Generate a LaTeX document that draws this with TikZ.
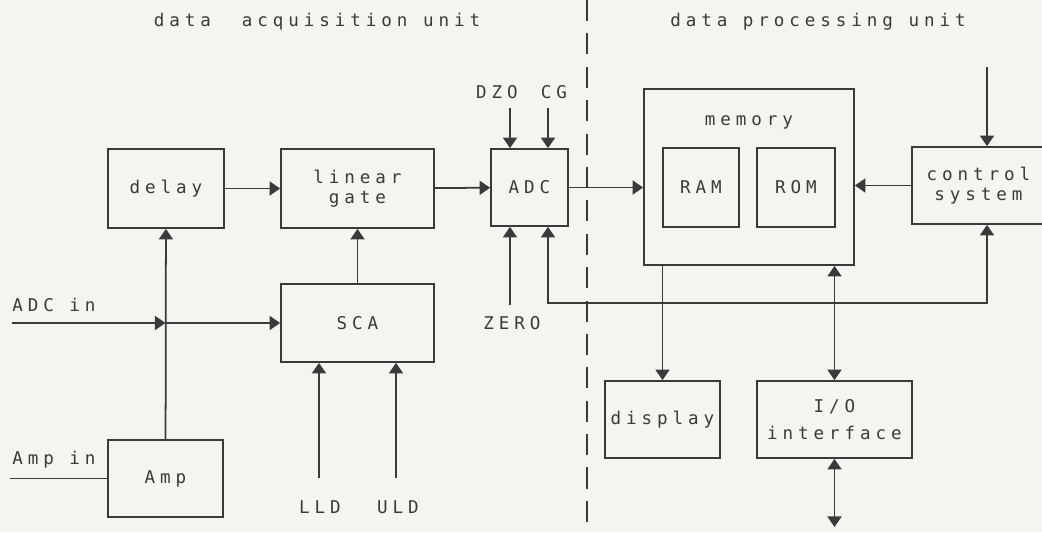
\documentclass[tikz,border=0pt]{standalone}
\usepackage{fontspec}
\usepackage{tikz}
\usetikzlibrary{arrows.meta, positioning, calc}
\newfontfamily\dotfont[LetterSpace=28]{DejaVu Sans Mono}
\definecolor{Ink}{RGB}{58,58,58}
\definecolor{Paper}{RGB}{244,244,240}

\begin{document}
\begin{tikzpicture}[
          box/.style={rectangle, draw=Ink, line width=1pt, align=center,
                      text=Ink, inner sep=0pt},
          txt/.style={text=Ink, inner sep=0pt},
          arr/.style={-{Triangle[length=6pt, width=8pt]}, draw=Ink, line width=1pt},
          dbl/.style={{Triangle[length=6pt, width=8pt]}-{Triangle[length=6pt, width=8pt]},
                      draw=Ink, line width=1pt},
          font=\dotfont\fontsize{10}{11.5}\selectfont
        ]
        \fill[Paper] (0,0) rectangle (20.84,10.64);
        \useasboundingbox (0,0) rectangle (20.84,10.64);
        \clip (0,0) rectangle (20.84,10.64);

        % Unit titles
        \node[txt] (tacq) at (6.34, 10.20) {data~~acquisition unit};
        \node[txt] (tproc) at (16.36, 10.20) {data processing unit};
        \draw[Ink, line width=1pt, dash pattern=on 12pt off 7pt] (11.74,10.64) -- (11.74,0);

        % Acquisition side
        \node[box, minimum width=2.32cm, minimum height=1.58cm]
              (delay) at (3.32, 6.87) {delay};
        \node[box, minimum width=3.06cm, minimum height=1.58cm]
              (gate) at (7.15, 6.87) {linear\\gate};
        \node[box, minimum width=1.54cm, minimum height=1.54cm]
              (adc) at (10.59, 6.89) {ADC};
        \node[box, minimum width=3.06cm, minimum height=1.56cm]
              (sca) at (7.15, 4.18) {SCA};
        \node[box, minimum width=2.30cm, minimum height=1.54cm]
              (amp) at (3.31, 1.07) {Amp};

        \draw[arr] (delay)--(gate);
        \draw[arr] (gate)--(adc);
        \draw[arr] (sca)--(gate);
        \draw[arr] (amp)--(delay);

        % Inputs
        \coordinate (adcin) at (0.24, 4.18);
        \coordinate (ampin) at (0.20, 1.07);
        \node[txt, anchor=west] (ladcin) at (0.24, 4.54) {ADC in};
        \node[txt, anchor=west] (lampin) at (0.24, 1.44) {Amp in};
        \draw[arr] (adcin)--(adcin -| amp.north);
        \draw[arr] (adcin -| amp.north)--(sca.west);
        \draw[Ink, line width=1pt] (ampin)--(amp.west);

        \node[txt] (lld) at (6.40, 0.50) {LLD};
        \node[txt] (uld) at (7.96, 0.50) {ULD};
        \coordinate (lldin) at (6.38, 1.08);
        \coordinate (uldin) at (7.92, 1.08);
        \draw[arr] (lldin)--(lldin |- sca.south);
        \draw[arr] (uldin)--(uldin |- sca.south);

        \node[txt] (dzo) at (9.94, 8.80) {DZO};
        \node[txt] (cg) at (11.08, 8.80) {CG};
        \node[txt] (zero) at (10.24, 4.18) {ZERO};
        \coordinate (dzoin) at (10.20, 8.48);
        \coordinate (cgin) at (10.96, 8.48);
        \coordinate (zeroin) at (10.20, 4.54);
        \draw[arr] (dzoin)--(dzoin |- adc.north);
        \draw[arr] (cgin)--(cgin |- adc.north);
        \draw[arr] (zeroin)--(zeroin |- adc.south);

        % Processing side
        \node[box, minimum width=4.20cm, minimum height=3.52cm,
              label={[txt, below=0.55cm]north:memory}]
              (mem) at (14.98, 7.10) {};
        \node[box, minimum width=1.52cm, minimum height=1.58cm]
              (ram) at (14.02, 6.89) {RAM};
        \node[box, minimum width=1.56cm, minimum height=1.58cm]
              (rom) at (15.92, 6.89) {ROM};
        \node[box, minimum width=2.66cm, minimum height=1.54cm]
              (ctrl) at (19.57, 6.93) {control\\system};
        \node[box, minimum width=2.30cm, minimum height=1.54cm]
              (disp) at (13.25, 2.25) {display};
        \node[box, minimum width=3.10cm, minimum height=1.54cm]
              (io) at (16.69, 2.25) {I/O\\[4pt]interface};

        \draw[arr] (adc)--(adc -| mem.west);
        \draw[arr] (ctrl)--(ctrl -| mem.east);
        \draw[arr] (mem.south -| disp)--(disp.north);
        \draw[dbl] (mem.south -| io)--(io.north);

        % Control lines
        \coordinate (ctrlin) at (19.74, 9.30);
        \coordinate (iobus) at (16.69, 0.10);
        \coordinate (busl) at (10.96, 4.58);
        \coordinate (busr) at (19.74, 4.58);
        \draw[arr] (ctrlin)--(ctrlin |- ctrl.north);
        \draw[dbl] (busl |- adc.south)--(busl)--(busr)--(busr |- ctrl.south);
        \draw[dbl] (io.south)--(iobus);
      \end{tikzpicture}
\end{document}
